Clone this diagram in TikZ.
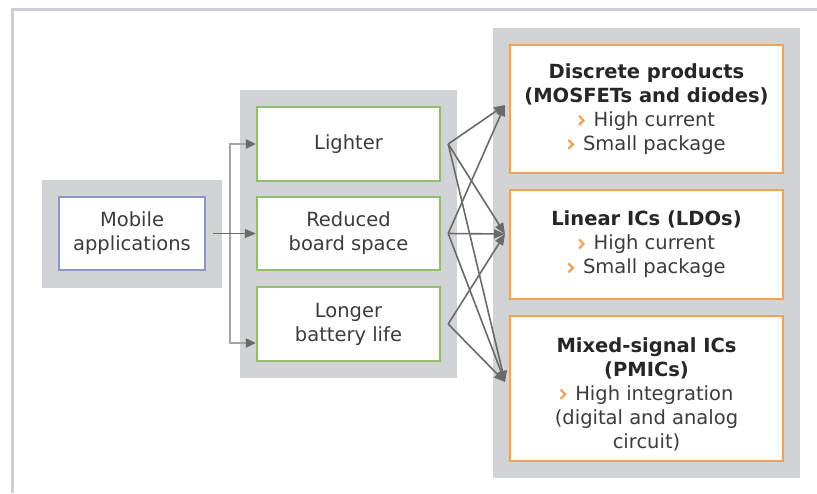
\documentclass[tikz,border=0pt]{standalone}
\usepackage{fontspec}
\setmainfont{DejaVu Sans}
\usetikzlibrary{arrows.meta}

\definecolor{panelgray}{HTML}{D2D3D5}
\definecolor{framegray}{HTML}{CDCED1}
\definecolor{appblue}{HTML}{8C94C8}
\definecolor{benefitgreen}{HTML}{93BE6E}
\definecolor{productorange}{HTML}{F2A252}
\definecolor{arrowgray}{HTML}{6A6A6A}
\definecolor{busgray}{HTML}{A4A4A4}
\definecolor{textgray}{HTML}{3C3C3C}

\newcommand{\chev}{\tikz[baseline=0pt]\draw[productorange, line width=2.2pt, line join=miter] (0pt,1.5pt) -- (4.5pt,6pt) -- (0pt,10.5pt);\hspace{9pt}}

\tikzset{
  panel/.style={fill=panelgray, inner sep=0pt},
  box/.style={fill=white, line width=2.4pt, align=center, inner sep=0pt,
    text=textgray, font=\fontsize{19.5}{24}\selectfont},
  appbox/.style={box, draw=appblue},
  benefitbox/.style={box, draw=benefitgreen, minimum width=183pt},
  productbox/.style={box, draw=productorange, minimum width=273pt},
  arr/.style={draw=arrowgray, line width=1.6pt, -{Triangle[length=11pt,width=9pt]}},
  busarr/.style={draw=busgray, line width=2.2pt, -{Triangle[length=10pt,width=9pt,color=arrowgray]}},
}

\begin{document}
\begin{tikzpicture}[x=1pt,y=-1pt]
  \useasboundingbox (0,0) rectangle (817,493);
  \draw[framegray, line width=3pt] (817,9) -- (12,9) -- (12,493);

  % gray backgrounds
  \node[panel, minimum width=180pt, minimum height=108pt] (leftpanel) at (132,234) {};
  \node[panel, minimum width=217pt, minimum height=288pt] (midpanel) at (348.5,234) {};
  \node[panel, minimum width=307pt, minimum height=450pt] (rightpanel) at (646.5,253) {};

  % application
  \node[appbox, minimum width=146pt, minimum height=73pt] (mobile) at (132,233.5) {Mobile\\applications};

  % benefits
  \node[benefitbox, minimum height=74pt] (lighter) at (348.5,144) {Lighter};
  \node[benefitbox, minimum height=73pt] (reduced) at (348.5,233.5) {Reduced\\board space};
  \node[benefitbox, minimum height=74pt] (longer) at (348.5,324) {Longer\\battery life};

  % products
  \node[productbox, minimum height=128pt] (discrete) at (646.5,109)
    {\textbf{\color{black!85}Discrete products}\\\textbf{\color{black!85}(MOSFETs and diodes)}\\\chev High current\\\chev Small package};
  \node[productbox, minimum height=109pt] (linear) at (646.5,244.5)
    {\textbf{\color{black!85}Linear ICs (LDOs)}\\\chev High current\\\chev Small package};
  \node[productbox, minimum height=145pt] (mixed) at (646.5,388.5)
    {\mbox{}\\[2pt]\textbf{\color{black!85}Mixed-signal ICs}\\\textbf{\color{black!85}(PMICs)}\\\chev High integration\\(digital and analog\\circuit)};

  % application to benefits
  \coordinate (bus) at (230,233.5);
  \draw[busarr] (bus) |- (lighter.west);
  \draw[busarr] (bus) |- ([yshift=-19pt]longer.west);
  \draw[arr] ([xshift=7pt]mobile.east) -- (reduced.west);

  % benefits to products
  \coordinate (lighterOut) at ([xshift=7pt]lighter.east);
  \coordinate (reducedOut) at ([xshift=7pt]reduced.east);
  \coordinate (longerOut) at ([xshift=7pt]longer.east);
  \coordinate (discreteIn) at (505,105);
  \coordinate (linearIn) at (505,234);
  \coordinate (mixedIn) at (505,382);
  \foreach \src in {lighterOut,reducedOut}
    \foreach \dst in {discreteIn,linearIn,mixedIn}
      \draw[arr] (\src) -- (\dst);
  \draw[arr] (longerOut) -- (linearIn);
  \draw[arr] (longerOut) -- (mixedIn);
\end{tikzpicture}
\end{document}
